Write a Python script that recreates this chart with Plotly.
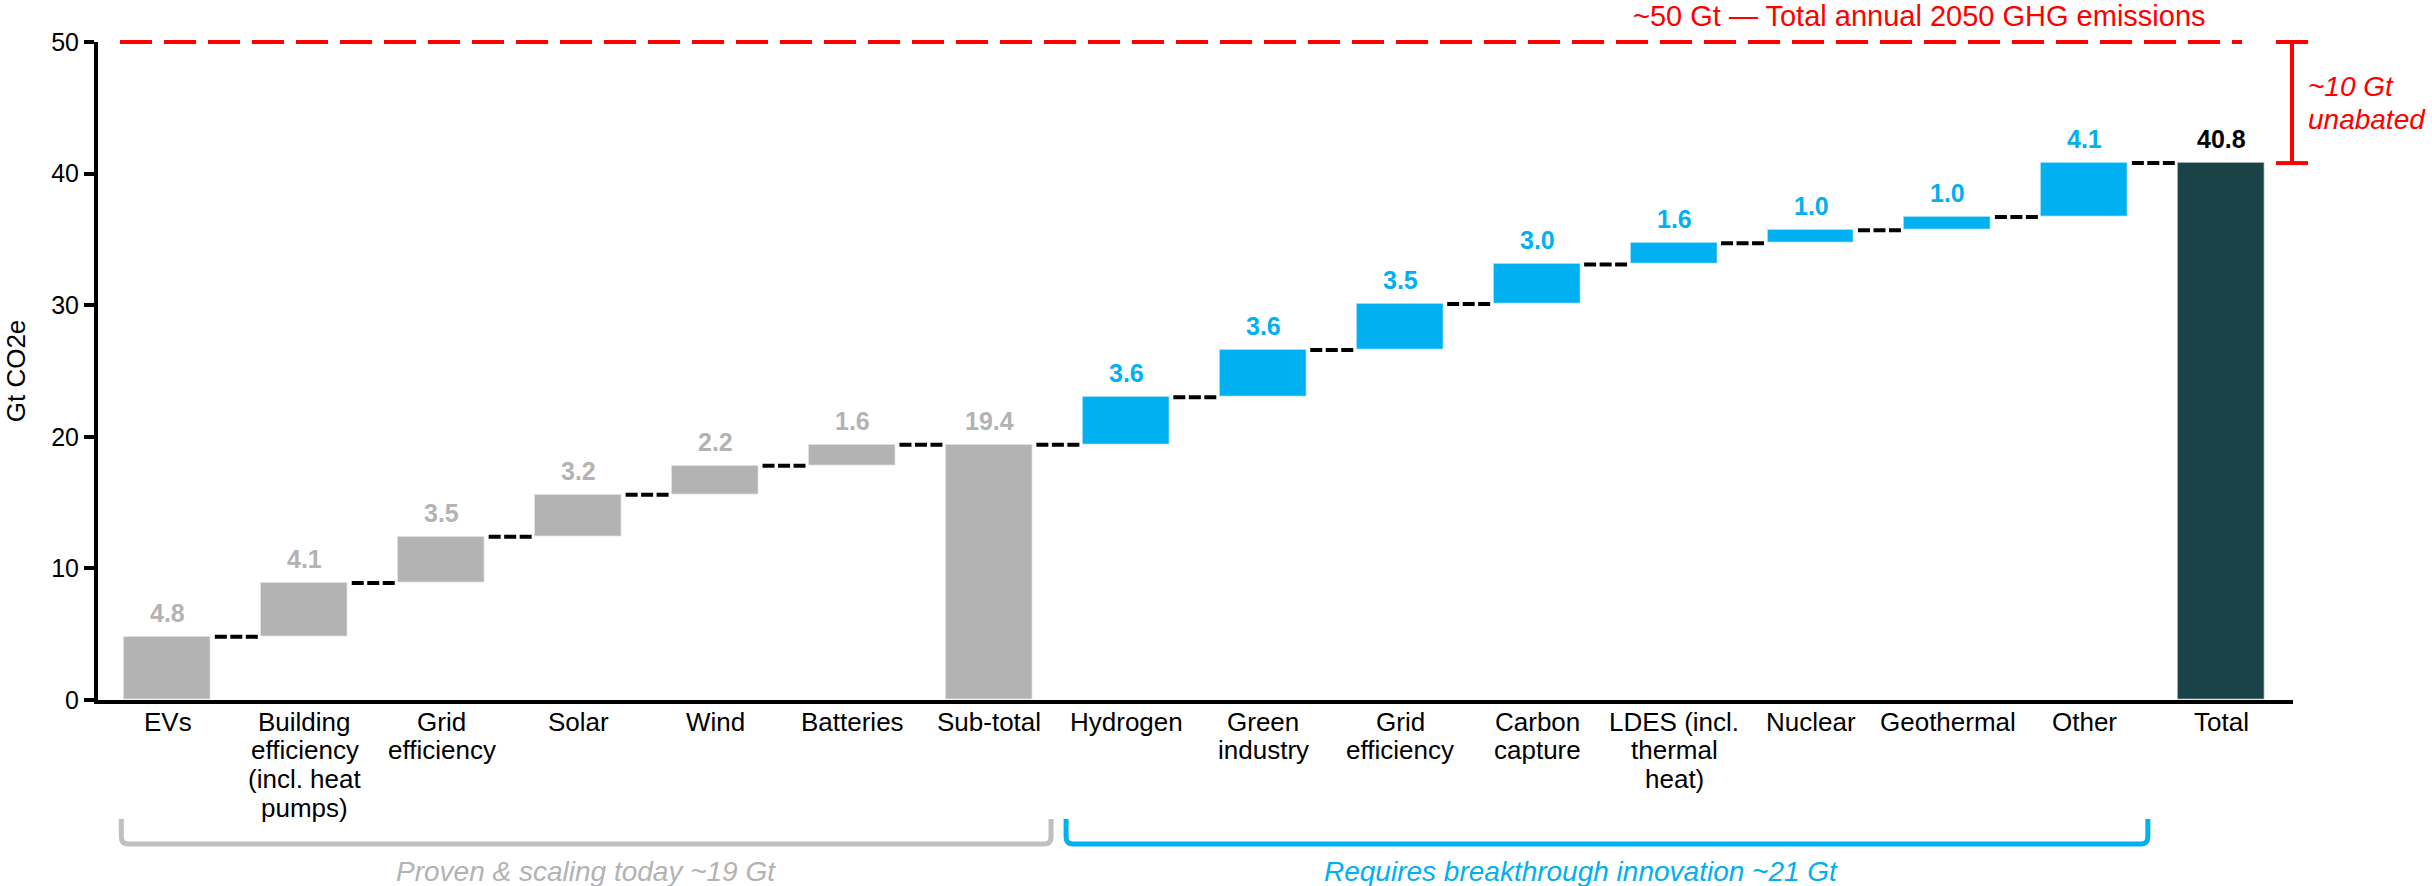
import plotly.graph_objects as go

# ---------------- data ----------------
categories = [
    "EVs", "Building<br>efficiency<br>(incl. heat<br>pumps)", "Grid<br>efficiency", "Solar",
    "Wind", "Batteries", "Sub-total", "Hydrogen", "Green<br>industry", "Grid<br>efficiency",
    "Carbon<br>capture", "LDES (incl.<br>thermal<br>heat)", "Nuclear", "Geothermal", "Other", "Total",
]
# increments (None = subtotal / total bar)
increments = [4.8, 4.1, 3.5, 3.2, 2.2, 1.6, None, 3.6, 3.6, 3.5, 3.0, 1.6, 1.0, 1.0, 4.1, None]
groups = ["proven"] * 7 + ["breakthrough"] * 8 + ["total"]
total_emissions_2050 = 50
y_ticks = [0, 10, 20, 30, 40, 50]
group_notes = ["Proven & scaling today ~19 Gt", "Requires breakthrough innovation ~21 Gt"]
top_note = "~50 Gt \u2014 Total annual 2050 GHG emissions"
side_note = ["~10 Gt", "unabated"]

# ---------------- styling ----------------
W, H = 2432, 886
L, R, T, B = 98, 2293, 42, 700
XR = [-0.51, 15.52]
BAR_W = 0.635
FONT = "Arial, Liberation Sans, Helvetica, sans-serif"
col_bar = {"proven": "#b3b3b3", "breakthrough": "#00b0f0", "total": "#1a4347"}
col_lab = {"proven": "#b3b3b3", "breakthrough": "#00b0f0", "total": "#000000"}
RED = "#ff0000"

# ---------------- compute waterfall ----------------
xs = list(range(len(categories)))
bases, heights, tops, labels = [], [], [], []
cum = 0.0
for inc in increments:
    if inc is None:
        bases.append(0)
        heights.append(round(cum, 1))
        tops.append(round(cum, 1))
        labels.append(f"{cum:.1f}")
    else:
        bases.append(round(cum, 1))
        heights.append(inc)
        cum += inc
        tops.append(round(cum, 1))
        labels.append(f"{inc:.1f}")


def xp(x):
    return (x - XR[0]) / (XR[1] - XR[0])


def ypx(py):
    return (B - py) / (B - T)


def xpx(px):
    return (px - L) / (R - L)


fig = go.Figure()
fig.add_trace(go.Bar(
    x=xs, y=heights, base=bases, width=BAR_W,
    marker=dict(color=[col_bar[g] for g in groups],
                line=dict(color="rgba(255,255,255,0.45)", width=1.5)),
    hoverinfo="skip", showlegend=False,
))

# connectors
inset = 3.5 / ((R - L) / (XR[1] - XR[0]))
cx, cy = [], []
for i in range(len(xs) - 1):
    lvl = tops[i]
    cx += [xs[i] + BAR_W / 2 + inset, xs[i + 1] - BAR_W / 2 - inset, None]
    cy += [lvl, lvl, None]
fig.add_trace(go.Scatter(x=cx, y=cy, mode="lines",
                         line=dict(color="black", width=4, dash="12px,3.5px"),
                         hoverinfo="skip", showlegend=False))

annotations = []
for x, t, lab, g in zip(xs, tops, labels, groups):
    annotations.append(dict(x=x, y=t, xref="x", yref="y", text=f"<b>{lab}</b>",
                            showarrow=False, xanchor="center", yanchor="bottom", yshift=8,
                            font=dict(family=FONT, size=25, color=col_lab[g])))

# category labels (one text per line for tight line spacing)
FIRST_TOP, LINE_STEP = 706, 28.5
for x, cat in zip(xs, categories):
    for k, line in enumerate(cat.split("<br>")):
        annotations.append(dict(x=xp(x), y=ypx(FIRST_TOP + k * LINE_STEP), xref="paper",
                                yref="paper", text=line, showarrow=False,
                                xanchor="center", yanchor="top", borderpad=0,
                                font=dict(family=FONT, size=26, color="black")))

shapes = []
# 50 Gt dashed line
shapes.append(dict(type="line", xref="paper", yref="paper",
                   x0=xpx(120), x1=xpx(2242), y0=1, y1=1,
                   line=dict(color=RED, width=4, dash="32px,12px")))
# unabated bracket
total_top = tops[-1]
y_tot = total_top / total_emissions_2050
bx = xpx(2292)
cap = 16 / (R - L)
shapes.append(dict(type="line", xref="paper", yref="paper", x0=bx, x1=bx, y0=y_tot, y1=1,
                   line=dict(color=RED, width=4)))
for yy in (y_tot, 1):
    shapes.append(dict(type="line", xref="paper", yref="paper", x0=bx - cap, x1=bx + cap,
                       y0=yy, y1=yy, line=dict(color=RED, width=4)))

annotations.append(dict(x=xpx(2208), y=ypx(34), xref="paper", yref="paper", text=top_note,
                        showarrow=False, xanchor="right", yanchor="bottom",
                        font=dict(family=FONT, size=29, color=RED)))
for k, (txt, base_py) in enumerate(zip(side_note, [97, 130])):
    annotations.append(dict(x=xpx(2306), y=ypx(base_py + 7), xref="paper", yref="paper",
                            text=f"<i>{txt}</i>", showarrow=False, xanchor="left",
                            yanchor="bottom", font=dict(family=FONT, size=28, color=RED)))

# group brackets
def bracket(x0, x1, color):
    yt, yb = ypx(819), ypx(844)
    rx, ry = 7 / (R - L), 7 / (B - T)
    path = (f"M {x0},{yt} L {x0},{yb + ry} Q {x0},{yb} {x0 + rx},{yb} "
            f"L {x1 - rx},{yb} Q {x1},{yb} {x1},{yb + ry} L {x1},{yt}")
    return dict(type="path", xref="paper", yref="paper", path=path,
                line=dict(color=color, width=5))

g0 = xp(xs[0] - 0.34)
g1 = xp(xs[6] + 0.45)
b0 = xp(xs[7] - 0.44)
b1 = xp(xs[14] + 0.46)
shapes.append(bracket(g0, g1, "#c0c0c0"))
shapes.append(bracket(b0, b1, "#00b0f0"))
annotations.append(dict(x=(g0 + g1) / 2, y=ypx(871), xref="paper", yref="paper",
                        text=f"<i>{group_notes[0]}</i>", showarrow=False,
                        xanchor="center", yanchor="middle",
                        font=dict(family=FONT, size=28, color="#b3b3b3")))
annotations.append(dict(x=(b0 + b1) / 2 - 0.012, y=ypx(871), xref="paper", yref="paper",
                        text=f"<i>{group_notes[1]}</i>", showarrow=False,
                        xanchor="center", yanchor="middle",
                        font=dict(family=FONT, size=28, color="#00b0f0")))

fig.update_layout(
    width=W, height=H,
    margin=dict(l=L, r=W - R, t=T, b=H - B, pad=0),
    plot_bgcolor="white", paper_bgcolor="white",
    font=dict(family=FONT, color="black"),
    shapes=shapes, annotations=annotations,
    bargap=0,
    xaxis=dict(range=XR, tickvals=xs, showticklabels=False, showgrid=False, zeroline=False,
               showline=True, linecolor="black", linewidth=4, ticks="", fixedrange=True),
    yaxis=dict(range=[0, 50], tickvals=y_ticks, showgrid=False, zeroline=False,
               showline=True, linecolor="black", linewidth=4, ticks="outside",
               ticklen=10, tickwidth=4, tickcolor="black",
               tickfont=dict(family=FONT, size=25, color="black"),
               title=dict(text="Gt CO2e", standoff=19, font=dict(family=FONT, size=26)),
               fixedrange=True),
)

fig.write_html("out.html")
